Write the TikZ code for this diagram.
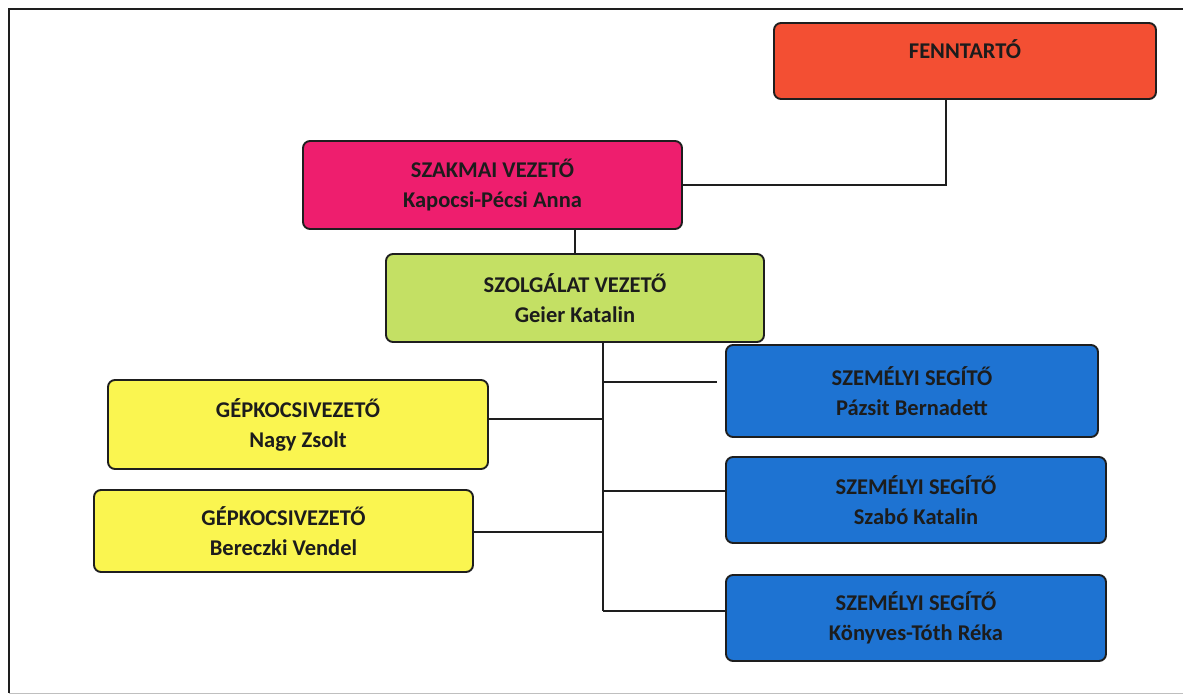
\documentclass[tikz,border=0pt]{standalone}
\usepackage{fontspec}
\setmainfont{Carlito}
\definecolor{bordercol}{HTML}{1E1E1E}
\definecolor{txt}{HTML}{1C1C1C}
\definecolor{cred}{HTML}{F34F33}
\definecolor{cpink}{HTML}{EE1E6E}
\definecolor{cgreen}{HTML}{C4E064}
\definecolor{cyellow}{HTML}{FAF550}
\definecolor{cblue}{HTML}{1E73D2}
\tikzset{
  orgbox/.style={draw=bordercol, line width=1.9pt, rounded corners=7pt, align=center,
    font=\fontsize{22.5}{30}\selectfont\bfseries, text=txt, inner sep=0pt},
  conn/.style={draw=bordercol, line width=2.6pt},
  frameline/.style={draw=bordercol, line width=1.4pt}
}
\begin{document}
\begin{tikzpicture}[x=1pt,y=-1pt]
\useasboundingbox (0,0) rectangle (1183,696);
% frame
\draw[frameline] (1183,9) -- (9,9) -- (9,693);
\draw[black!25, line width=0.8pt] (9,693) -- (1183,693);

\node[orgbox, fill=cred, minimum width=382pt, minimum height=76pt, text height=16pt, text depth=22pt] (fenn) at (965,61) {FENNTARTÓ};
\node[orgbox, fill=cpink, minimum width=379pt, minimum height=88pt] (szak) at (492.5,185) {SZAKMAI VEZETŐ\\Kapocsi-Pécsi Anna};
\node[orgbox, fill=cgreen, minimum width=378pt, minimum height=88pt] (szolg) at (575,298) {SZOLGÁLAT VEZETŐ\\Geier Katalin};
\node[orgbox, fill=cyellow, minimum width=380pt, minimum height=89pt] (gep1) at (298,424.5) {GÉPKOCSIVEZETŐ\\Nagy Zsolt};
\node[orgbox, fill=cyellow, minimum width=379pt, minimum height=82pt] (gep2) at (283.5,531) {GÉPKOCSIVEZETŐ\\Bereczki Vendel};
\node[orgbox, fill=cblue, minimum width=372pt, minimum height=92pt] (seg1) at (912,391) {SZEMÉLYI SEGÍTŐ\\Pázsit Bernadett};
\node[orgbox, fill=cblue, minimum width=380pt, minimum height=86pt] (seg2) at (916,500) {SZEMÉLYI SEGÍTŐ\\Szabó Katalin};
\node[orgbox, fill=cblue, minimum width=380pt, minimum height=86pt] (seg3) at (916,618) {SZEMÉLYI SEGÍTŐ\\Könyves-Tóth Réka};

% coordinates on connectors
\coordinate (fdrop) at (946,99);
\coordinate (ttop) at (603,342);
\coordinate (b1) at (603,382);
\coordinate (b1end) at (717,382);
\coordinate (y1) at (603,419);
\coordinate (b2) at (603,491);
\coordinate (y2) at (603,532);
\coordinate (tbot) at (603,611);

% connectors
\draw[conn] (fdrop) |- (szak.east);
\draw[conn] (szolg.north) -- (szolg.north |- szak.south);
\draw[conn] (ttop) -- (tbot);
\draw[conn] (b1) -- (b1end);
\draw[conn] (y1) -- (gep1.east |- y1);
\draw[conn] (b2) -- (seg2.west |- b2);
\draw[conn] (y2) -- (gep2.east |- y2);
\draw[conn] (tbot) -- (seg3.west |- tbot);
\end{tikzpicture}
\end{document}
